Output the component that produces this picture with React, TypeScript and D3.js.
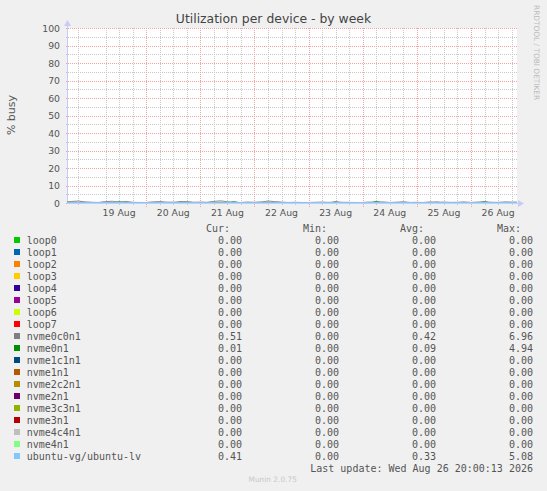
import * as d3 from "d3";

// legend rows (Munin order)
const deviceNames = [
  "loop0", "loop1", "loop2", "loop3", "loop4", "loop5", "loop6", "loop7",
  "nvme0c0n1", "nvme0n1", "nvme1c1n1", "nvme1n1", "nvme2c2n1", "nvme2n1",
  "nvme3c3n1", "nvme3n1", "nvme4c4n1", "nvme4n1", "ubuntu-vg/ubuntu-lv",
];
const deviceColors = [
  "#00CC00", "#0066B3", "#FF8000", "#FFCC00", "#330099", "#990099", "#CCFF00", "#FF0000",
  "#808080", "#008F00", "#00487D", "#B35A00", "#B38F00", "#6B006B",
  "#8FB300", "#B30000", "#BEBEBE", "#80FF80", "#80C9FF",
];
const curValues = [0, 0, 0, 0, 0, 0, 0, 0, 0.51, 0.01, 0, 0, 0, 0, 0, 0, 0, 0, 0.41];
const minValues = [0, 0, 0, 0, 0, 0, 0, 0, 0, 0, 0, 0, 0, 0, 0, 0, 0, 0, 0];
const avgValues = [0, 0, 0, 0, 0, 0, 0, 0, 0.42, 0.09, 0, 0, 0, 0, 0, 0, 0, 0, 0.33];
const maxValues = [0, 0, 0, 0, 0, 0, 0, 0, 6.96, 4.94, 0, 0, 0, 0, 0, 0, 0, 0, 5.08];

// 3-hourly averages, Aug 18 12:00 .. Aug 26 21:00
const nvme0c0n1Week = [
  0.5, 0.9, 1.1, 0.6,
  0.4, 0.3, 0.8, 1.0, 0.5, 0.9, 0.4, 0.3,
  0.3, 0.6, 0.8, 0.5, 0.4, 0.7, 0.9, 0.4,
  0.5, 0.4, 0.9, 1.2, 0.7, 0.4, 0.3, 0.5,
  0.4, 0.6, 1.1, 0.8, 0.5, 0.3, 0.4, 0.3,
  0.3, 0.4, 0.5, 0.3, 0.6, 0.4, 0.3, 0.2,
  0.3, 0.5, 0.4, 0.6, 0.3, 0.4, 0.7, 0.3,
  0.4, 0.3, 0.6, 0.4, 0.5, 0.3, 0.4, 0.6,
  0.3, 0.5, 0.7, 0.4, 0.3, 0.6, 0.5, 0.5,
];
const nvme0n1Week = [
  0.05, 0.1, 0.0, 0.05,
  0.0, 0.05, 0.1, 0.0, 0.6, 0.05, 0.0, 0.1,
  0.05, 0.0, 0.1, 0.05, 0.0, 0.5, 0.05, 0.0,
  0.1, 0.05, 0.0, 0.1, 0.05, 0.7, 0.0, 0.05,
  0.0, 0.1, 0.4, 0.05, 0.0, 0.1, 0.05, 0.0,
  0.05, 0.1, 0.0, 0.05, 0.6, 0.0, 0.1, 0.05,
  0.0, 0.05, 0.8, 0.1, 0.0, 0.05, 0.1, 0.0,
  0.05, 0.0, 0.1, 0.5, 0.05, 0.0, 0.1, 0.05,
  0.0, 0.1, 0.6, 0.05, 0.0, 0.1, 0.05, 0.0,
];
const ubuntuLvWeek = [
  0.3, 0.4, 0.3, 0.4,
  0.3, 0.3, 0.4, 0.5, 0.3, 0.4, 0.3, 0.3,
  0.3, 0.4, 0.3, 0.3, 0.4, 0.3, 0.5, 0.3,
  0.3, 0.3, 0.4, 0.6, 0.4, 0.3, 0.3, 0.4,
  0.3, 0.4, 0.5, 0.4, 0.3, 0.3, 0.3, 0.3,
  0.3, 0.3, 0.3, 0.4, 0.3, 0.3, 0.4, 0.3,
  0.3, 0.4, 0.3, 0.3, 0.3, 0.4, 0.3, 0.3,
  0.3, 0.3, 0.4, 0.3, 0.3, 0.4, 0.3, 0.3,
  0.3, 0.4, 0.3, 0.3, 0.4, 0.3, 0.3, 0.4,
];
const idleWeek = [0, 0];

const yTicks = [0, 10, 20, 30, 40, 50, 60, 70, 80, 90, 100];

const W = 547;
const H = 491;
const left = 67;
const right = 517;
const top = 28;
const bottom = 203;

const App = () => {
  const start = new Date(2026, 7, 18, 12, 55);
  const end = new Date(2026, 7, 26, 20, 23);
  const x = d3.scaleTime().domain([start, end]).range([left, right]);
  const y = d3.scaleLinear().domain([0, 100]).range([bottom, top]);
  const px = (d: Date) => Math.round(x(d));
  const py = (v: number) => Math.round(y(v));

  const sampleTimes = d3.timeHour.every(3)!.range(new Date(2026, 7, 18, 12), new Date(2026, 7, 26, 22));
  const idleTimes = [start, end];

  const seriesValues: Record<string, number[]> = {
    nvme0c0n1: nvme0c0n1Week,
    nvme0n1: nvme0n1Week,
    "ubuntu-vg/ubuntu-lv": ubuntuLvWeek,
  };

  const line = d3
    .line<[Date, number]>()
    .x((d) => x(d[0]))
    .y((d) => y(d[1]));

  const days = d3.timeDay.range(start, end);
  const quarters = d3.timeHour.every(6)!.range(start, end).filter((d) => d.getHours() !== 0);
  const noons = days.map((d) => d3.timeHour.offset(d, 12)).filter((d) => d < end);
  const minorY = d3.range(5, 100, 10);
  const fmtDay = d3.timeFormat("%d %b");
  const fmt = d3.format(".2f");

  const legendY = (i: number) => 240 + 12 * i;
  const colRight = [242, 339, 436, 533];
  const headers = ["Cur:", "Min:", "Avg:", "Max:"];
  const stats = [curValues, minValues, avgValues, maxValues];

  const axisColor = "#c6cbf7";
  const majorGrid = "#eba3a3";
  const minorGrid = "#c8c8c8";
  const textColor = "#555";

  return (
    <svg width={W} height={H} style={{ position: "absolute", left: 0, top: 0, fontFamily: "DejaVu Sans" }}>
      <rect width={W} height={H} fill="#f0f0f0" />
      <rect x={left} y={top} width={right - left} height={bottom - top} fill="#fff" />

      <defs>
        <clipPath id="plot">
          <rect x={left} y={top - 2} width={right - left} height={bottom - top + 2} />
        </clipPath>
        {/* 1px dotted patterns, pixel aligned */}
        <pattern id="vMinor" patternUnits="userSpaceOnUse" width={1} height={2}>
          <rect width={1} height={1} fill={minorGrid} />
        </pattern>
        <pattern id="vMajor" patternUnits="userSpaceOnUse" width={1} height={2}>
          <rect width={1} height={1} fill={majorGrid} />
        </pattern>
        <pattern id="hMinor" patternUnits="userSpaceOnUse" width={2} height={1}>
          <rect width={1} height={1} fill={minorGrid} />
        </pattern>
        <pattern id="hMajor" patternUnits="userSpaceOnUse" width={2} height={1}>
          <rect width={1} height={1} fill={majorGrid} />
        </pattern>
      </defs>

      <g shapeRendering="crispEdges">
        {/* minor grid */}
        {quarters.map((d, i) => (
          <rect key={"qv" + i} x={px(d)} y={top} width={1} height={bottom - top + 2} fill="url(#vMinor)" />
        ))}
        {minorY.map((v) => (
          <rect key={"qh" + v} x={left - 2} y={py(v)} width={right - left + 2} height={1} fill="url(#hMinor)" />
        ))}
        {/* major grid */}
        {days.slice(1).map((d, i) => (
          <rect key={"dv" + i} x={px(d)} y={top} width={1} height={bottom - top + 4} fill="url(#vMajor)" />
        ))}
        {yTicks.map((v) => (
          <rect key={"mh" + v} x={left - 2} y={py(v)} width={right - left + 2} height={1} fill="url(#hMajor)" />
        ))}

        {/* axes */}
        <rect x={left} y={top - 4} width={1} height={bottom - top + 5} fill={axisColor} />
        <rect x={left} y={bottom} width={right - left + 2} height={1} fill={axisColor} />
      </g>
      <path d={`M${left - 3},${top - 2} L${left + 4},${top - 2} L${left + 0.5},${top - 8} Z`} fill={axisColor} />
      <path d={`M${right + 1},${bottom - 3} L${right + 1},${bottom + 4} L${right + 7},${bottom + 0.5} Z`} fill={axisColor} />

      {/* data */}
      <g clipPath="url(#plot)">
        {deviceNames.map((name, i) => {
          const vals = seriesValues[name] ?? idleWeek;
          const times = seriesValues[name] ? sampleTimes : idleTimes;
          const pts = vals.map((v, j) => [times[j], v] as [Date, number]);
          return <path key={name} d={line(pts) ?? ""} fill="none" stroke={deviceColors[i]} strokeWidth={1} />;
        })}
      </g>

      {/* tick labels */}
      {yTicks.map((v) => (
        <text key={"yl" + v} x={60} y={y(v) + 3.5} textAnchor="end" fontSize={9.3} fill={textColor}>
          {v}
        </text>
      ))}
      {noons.map((d, i) => (
        <text key={"xl" + i} x={x(d)} y={216} textAnchor="middle" fontSize={9.3} fill={textColor}>
          {fmtDay(d)}
        </text>
      ))}

      <text x={273.5} y={23} textAnchor="middle" fontSize={12.4} fill="#444">
        Utilization per device - by week
      </text>
      <text transform="translate(15,115) rotate(-90)" textAnchor="middle" fontSize={11} fill={textColor}>
        % busy
      </text>
      <text transform="translate(534,5) rotate(90)" fontSize={7.4} fill="#bbb">
        RRDTOOL / TOBI OETIKER
      </text>

      {/* legend */}
      <g fontFamily="DejaVu Sans Mono" fontSize={10} fill={textColor}>
        {headers.map((h, c) => (
          <text key={h} x={colRight[c] - 12} y={legendY(-1) + 3.5} textAnchor="end">
            {h}
          </text>
        ))}
        {deviceNames.map((name, i) => (
          <g key={name}>
            <rect x={14} y={legendY(i) - 3} width={6} height={6} fill={deviceColors[i]} />
            <text x={26.7} y={legendY(i) + 3.5}>{name}</text>
            {stats.map((col, c) => (
              <text key={c} x={colRight[c]} y={legendY(i) + 3.5} textAnchor="end">
                {fmt(col[i])}
              </text>
            ))}
          </g>
        ))}
        <text x={533} y={legendY(19) + 3.5} textAnchor="end">
          Last update: Wed Aug 26 20:00:13 2026
        </text>
      </g>

      <text x={272.7} y={482} textAnchor="middle" fontSize={7.4} fill="#c8c8c8">
        Munin 2.0.75
      </text>
    </svg>
  );
};

export default App;
